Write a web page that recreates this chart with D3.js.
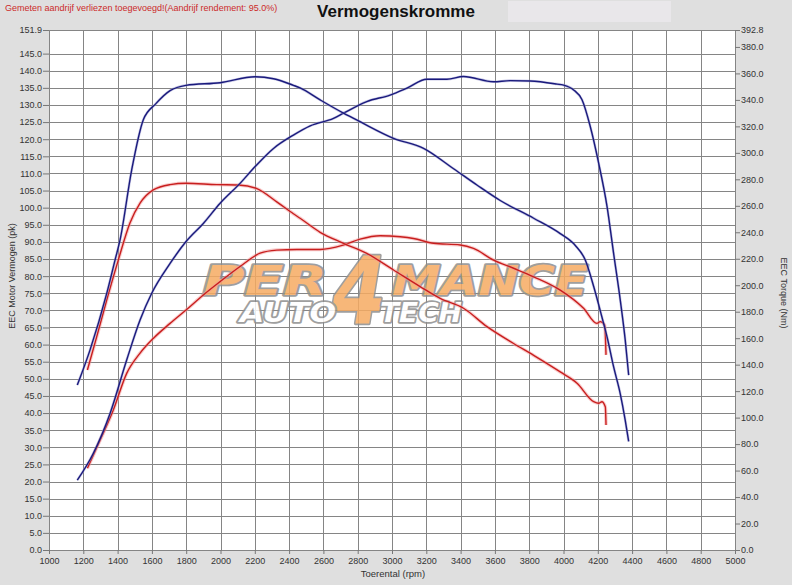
<!DOCTYPE html>
<html><head><meta charset="utf-8">
<script src="https://cdn.jsdelivr.net/npm/d3@7"></script>
<style>body{margin:0;background:#dfdfdf;} svg{display:block}</style>
</head><body><svg id="c" width="792" height="585"></svg>
<script>
// ---------- data ----------
const xTicks = d3.range(1000, 5001, 200);
const leftTicks = d3.range(0, 146, 5).concat([151.9]);
const rightTicks = d3.range(0, 381, 20).concat([392.8]);

// tuned (blue) power, pk (left axis)
const bluePowerRpm = [1165,1258,1356,1453,1531,1599,1706,1799,1900,1998,2114,2202,2309,2425,2523,2659,2717,2853,2989,3087,3203,3320,3417,3592,3689,3806,3962,4000,4059,4108,4156,4205,4254,4292,4331,4360,4380];
const bluePowerPk  = [20.4,28.2,39.9,55.5,67.2,75,83.7,90.1,95.4,101.3,107.1,112,117.3,121.2,123.9,126.1,127.6,131,132.9,134.9,137.5,137.5,138.3,136.8,137.1,137,136.1,135.8,134.4,131.5,123.7,113,100.3,86.7,73,61.3,51.1];
// tuned (blue) torque, Nm (right axis)
const blueTorqueRpm = [1165,1239,1337,1385,1414,1482,1550,1622,1706,1799,1998,2202,2309,2425,2464,2581,2717,2814,3009,3184,3359,3495,3631,3826,3981,4069,4127,4176,4224,4254,4292,4331,4360,4380];
const blueTorqueNm  = [124.6,151,194,219,234,287,325,337,347,351,353,357.5,356,351,349,340,330,323.5,311,303.4,288,275.7,264,250.6,239,230,219,199,176,161,138.5,118,98,82];
// stock (red) power, pk (left axis)
const redPowerRpm = [1224,1298,1375,1453,1531,1608,1706,1799,1900,1998,2114,2231,2328,2445,2581,2717,2814,2931,3048,3125,3242,3398,3475,3592,3709,3826,3981,4117,4195,4214,4240,4248];
const redPowerPk  = [23.9,32.1,40.9,51.6,57.5,61.8,66.2,70.1,74.5,78.4,82.8,86.7,87.6,87.8,87.8,89.1,90.8,91.8,91.5,91,89.6,89.1,88.1,84.7,82.3,79.8,75.9,70.6,66.2,66.7,65.7,57];
// stock (red) torque, Nm (right axis)
const redTorqueRpm = [1224,1278,1337,1404,1472,1531,1608,1706,1799,1978,2104,2212,2328,2425,2464,2581,2717,2853,3009,3164,3281,3417,3554,3709,3826,3981,4079,4176,4205,4224,4244,4248];
const redTorqueNm  = [136,161,189,219,247,262,272,276,277,276,275.7,273,263,254,250.6,240,231.7,224,211.5,199,190,182.6,168.7,156,147,134.5,126,112,110.8,112,108,94.4];

// ---------- drawing ----------
const svg = d3.select('#c');
const F = 'Liberation Sans, Arial, sans-serif';
const x = d3.scaleLinear([1000, 5000], [49, 735]);
const yL = d3.scaleLinear([0, 151.9], [550, 30]);
const yR = d3.scaleLinear([0, 392.8], [550, 30]);

svg.append('rect').attr('width', 792).attr('height', 585).attr('fill', '#dfdfdf');
svg.append('rect').attr('x', 508).attr('y', 1).attr('width', 163).attr('height', 21).attr('fill', '#e9e7ea');

svg.append('text').attr('x', 5).attr('y', 11).attr('font-family', F).attr('font-size', 9)
  .attr('fill', '#cc2a2a').text('Gemeten aandrijf verliezen toegevoegd!(Aandrijf rendement: 95.0%)');
svg.append('text').attr('x', 396).attr('y', 17).attr('text-anchor', 'middle').attr('font-family', F)
  .attr('font-size', 17).attr('font-weight', 'bold').attr('fill', '#111').text('Vermogenskromme');

// plot background
svg.append('rect').attr('x', x(1000)).attr('y', yL(151.9)).attr('width', x(5000) - x(1000))
  .attr('height', yL(0) - yL(151.9)).attr('fill', '#fff');

// grid
const grid = svg.append('g').attr('stroke', '#858585').attr('stroke-width', 1).attr('shape-rendering', 'crispEdges');
grid.selectAll('.v').data(xTicks).join('line')
  .attr('x1', d => Math.round(x(d)) + 0.5).attr('x2', d => Math.round(x(d)) + 0.5)
  .attr('y1', yL(151.9)).attr('y2', yL(0));
grid.selectAll('.h').data(leftTicks).join('line')
  .attr('x1', x(1000)).attr('x2', x(5000))
  .attr('y1', d => Math.round(yL(d)) + 0.5).attr('y2', d => Math.round(yL(d)) + 0.5);

// logo watermark: one text element made of positioned pieces
const logo = svg.append('text').attr('opacity', 0.85).attr('font-family', 'DejaVu Sans')
  .attr('font-weight', 'bold').attr('font-style', 'italic')
  .attr('stroke', '#8f8f8f').attr('stroke-width', 3.5).attr('stroke-linejoin', 'round')
  .attr('paint-order', 'stroke');
function logoPart(txt, lx, ly, size, w, fill) {
  logo.append('tspan').attr('x', lx).attr('y', ly).attr('font-size', size)
    .attr('textLength', w).attr('lengthAdjust', 'spacingAndGlyphs')
    .attr('fill', fill).text(txt);
}
logoPart('PER', 203, 295, 40, 124, '#f6ab62');
logoPart('4', 332, 323, 92, 54, '#f6ab62');
logoPart('MANCE', 392, 295, 40, 196, '#f6ab62');
logoPart('AUTO', 240, 322, 26, 96, '#ffffff');
logoPart('TECH', 380, 322, 26, 82, '#ffffff');

// curves
const zip = (a, b) => a.map((v, i) => [v, b[i]]);
function drawCurve(rpm, vals, y, col, halo, hw) {
  const line = d3.line().x(d => x(d[0])).y(d => y(d[1])).curve(d3.curveMonotoneX);
  const data = zip(rpm, vals);
  svg.append('path').attr('d', line(data)).attr('fill', 'none').attr('stroke', halo)
    .attr('stroke-width', hw).attr('stroke-opacity', 0.5).attr('stroke-linejoin', 'round');
  svg.append('path').attr('d', line(data)).attr('fill', 'none').attr('stroke', col)
    .attr('stroke-width', 1.4).attr('stroke-linejoin', 'round');
}
drawCurve(redPowerRpm, redPowerPk, yL, '#c81e1e', '#f39a9a', 3.5);
drawCurve(redTorqueRpm, redTorqueNm, yR, '#c81e1e', '#f39a9a', 3.5);
drawCurve(bluePowerRpm, bluePowerPk, yL, '#1a1a7c', '#8f8fcc', 2.6);
drawCurve(blueTorqueRpm, blueTorqueNm, yR, '#1a1a7c', '#8f8fcc', 2.6);

// axes
const fmt = d3.format('.1f');
const axL = svg.append('g').attr('transform', `translate(${x(1000)},0)`)
  .call(d3.axisLeft(yL).tickValues(leftTicks).tickFormat(fmt).tickSize(6).tickPadding(1));
const axR = svg.append('g').attr('transform', `translate(${x(5000)},0)`)
  .call(d3.axisRight(yR).tickValues(rightTicks).tickFormat(fmt).tickSize(5).tickPadding(1));
const axB = svg.append('g').attr('transform', `translate(0,${yL(0)})`)
  .call(d3.axisBottom(x).tickValues(xTicks).tickFormat(d3.format('d')).tickSize(4).tickPadding(4));
[axL, axR, axB].forEach(a => {
  a.select('.domain').remove();
  a.selectAll('line').attr('stroke', '#777');
  a.selectAll('text').attr('font-family', F).attr('font-size', 9).attr('fill', '#333');
});

// axis titles
svg.append('text').attr('transform', `translate(15,276) rotate(-90)`).attr('text-anchor', 'middle')
  .attr('font-family', F).attr('font-size', 9).attr('fill', '#333').text('EEC Motor Vermogen (pk)');
svg.append('text').attr('transform', `translate(781,293) rotate(90)`).attr('text-anchor', 'middle')
  .attr('font-family', F).attr('font-size', 9).attr('fill', '#333').text('EEC Torque (Nm)');
svg.append('text').attr('x', 393).attr('y', 577).attr('text-anchor', 'middle')
  .attr('font-family', F).attr('font-size', 9.5).attr('fill', '#333').text('Toerental (rpm)');
</script></body></html>
